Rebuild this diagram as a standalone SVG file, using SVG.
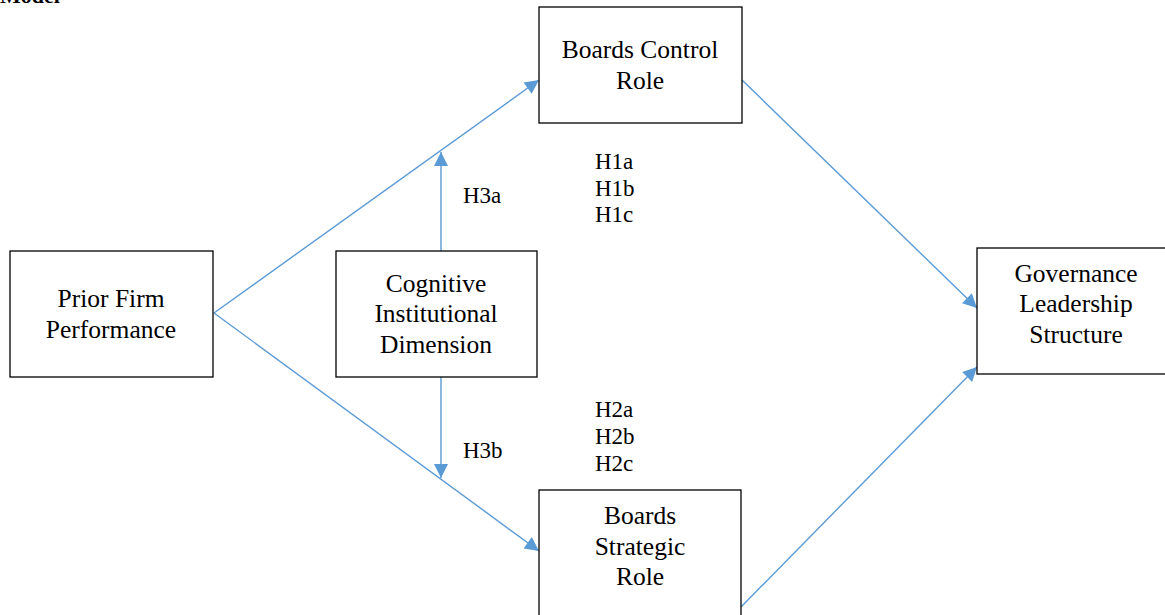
<svg xmlns="http://www.w3.org/2000/svg" width="1165" height="615" viewBox="0 0 1165 615">
<style>
.box{fill:#fff;stroke:#000;stroke-width:1.3}
.t{font-family:"Liberation Serif","Times New Roman","DejaVu Serif",serif;font-size:25.5px;fill:#000;text-anchor:middle}
.l{font-family:"Liberation Serif","Times New Roman","DejaVu Serif",serif;font-size:23px;fill:#000}
.c{stroke:#5B9BD5;stroke-width:1.4;fill:none;marker-end:url(#b)}
</style>
<defs>
<marker id="b" viewBox="0 0 10 10" refX="10" refY="5" markerWidth="16" markerHeight="14" markerUnits="userSpaceOnUse" orient="auto">
<path d="M0,0 L10,5 L0,10 Z" fill="#5B9BD5"/>
</marker>
</defs>
<text x="0" y="3" font-family="Liberation Serif, Times New Roman, DejaVu Serif, serif" font-size="22" font-weight="bold">Model</text>
<g id="connectors">
<path class="c" d="M214,313 L539,80"/>
<path class="c" d="M214,313 L539,551"/>
<path class="c" d="M441,251 L441,152"/>
<path class="c" d="M441,377 L441,478"/>
<path class="c" d="M742,80 L977,308"/>
<path class="c" d="M741,607 L977,367"/>
</g>
<g id="prior">
<rect class="box" x="10" y="251" width="203" height="126"/>
<text class="t" x="111" y="307">Prior Firm</text>
<text class="t" x="111" y="338">Performance</text>
</g>
<g id="cognitive">
<rect class="box" x="336" y="251" width="201" height="126"/>
<text class="t" x="436" y="292">Cognitive</text>
<text class="t" x="436" y="322">Institutional</text>
<text class="t" x="436" y="353">Dimension</text>
</g>
<g id="control">
<rect class="box" x="539" y="7" width="203" height="116"/>
<text class="t" x="640" y="58">Boards Control</text>
<text class="t" x="640" y="89">Role</text>
</g>
<g id="strategic">
<rect class="box" x="539" y="490" width="202" height="140"/>
<text class="t" x="640" y="524">Boards</text>
<text class="t" x="640" y="555">Strategic</text>
<text class="t" x="640" y="585">Role</text>
</g>
<g id="governance">
<rect class="box" x="977" y="248" width="200" height="126"/>
<text class="t" x="1076" y="282">Governance</text>
<text class="t" x="1076" y="312">Leadership</text>
<text class="t" x="1076" y="343">Structure</text>
</g>
<g id="labels">
<text class="l" x="463" y="203">H3a</text>
<text class="l" x="463" y="458">H3b</text>
<text class="l" x="595" y="169">H1a</text>
<text class="l" x="595" y="196">H1b</text>
<text class="l" x="595" y="222">H1c</text>
<text class="l" x="595" y="417">H2a</text>
<text class="l" x="595" y="444">H2b</text>
<text class="l" x="595" y="471">H2c</text>
</g>
</svg>
